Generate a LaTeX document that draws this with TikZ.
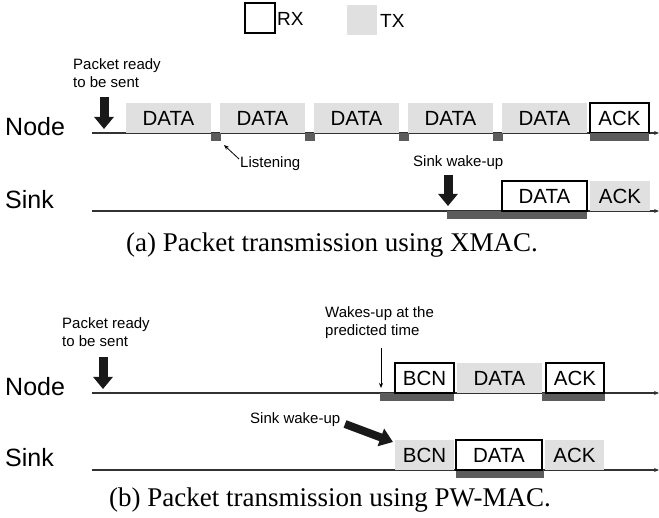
\documentclass[tikz,border=0pt]{standalone}
\usepackage{fontspec}
\setmainfont{Liberation Sans}
\newfontfamily\capfont{Liberation Serif}
\usetikzlibrary{arrows.meta}
\definecolor{txgray}{RGB}{224,224,224}
\definecolor{bargray}{RGB}{92,92,92}
\definecolor{linegray}{RGB}{50,50,50}
\tikzset{
  boxbase/.style={inner sep=0pt, outer sep=0pt, anchor=north west, font=\fontsize{20.5}{22}\selectfont},
  rxbox/.style={boxbase, draw=black, line width=1.1pt, fill=white},
  txbox/.style={boxbase, fill=txgray},
  barbox/.style={inner sep=0pt, outer sep=0pt, anchor=north west, fill=bargray, minimum height=7.5pt},
  tl/.style={draw=linegray, line width=1.2pt, -{Stealth[length=5pt,width=4pt]}},
  bigarrow/.style={draw=black!90, line width=9pt, -{Triangle[width=19pt,length=12pt]}},
  thinarrow/.style={draw=black, line width=0.8pt, -{Stealth[length=5pt,width=4pt]}},
  lbl/.style={inner sep=0pt, font=\fontsize{15}{18}\selectfont, align=left},
  rowlbl/.style={inner sep=0pt, anchor=west, font=\fontsize{25}{27}\selectfont},
  legtxt/.style={inner sep=0pt, anchor=west, font=\fontsize{19}{21}\selectfont},
  captxt/.style={inner sep=0pt, font=\capfont\fontsize{27}{29}\selectfont},
}
\begin{document}
\begin{tikzpicture}[x=1pt,y=-1pt]
\useasboundingbox (0,0) rectangle (659,518);
% legend
\node[rxbox, minimum width=30pt, minimum height=30pt] (legrx) at (245,3) {};
\node[legtxt] (legrxt) at (277,19) {RX};
\node[txbox, minimum width=30pt, minimum height=30pt] (legtx) at (347,5) {};
\node[legtxt] (legtxt) at (380,21) {TX};

% ---------------- (a) ----------------
\node[rowlbl] (anode) at (5,127) {Node};
\node[rowlbl] (asink) at (5,200) {Sink};
\coordinate (an0) at (92,133); \coordinate (an1) at (659,133);
\coordinate (as0) at (92,211); \coordinate (as1) at (659,211);
\draw[tl] (an0) -- (an1);
\draw[tl] (as0) -- (as1);

\node[lbl, anchor=west] (apkt) at (73,73) {Packet ready\\to be sent};
\coordinate (aar0) at (104,97); \coordinate (aar1) at (104,129);
\draw[bigarrow] (aar0) -- (aar1);

\node[txbox, minimum width=85pt, minimum height=30pt] (ad1) at (126,103) {DATA};
\node[txbox, minimum width=85pt, minimum height=30pt] (ad2) at (220,103) {DATA};
\node[txbox, minimum width=85pt, minimum height=30pt] (ad3) at (314,103) {DATA};
\node[txbox, minimum width=85pt, minimum height=30pt] (ad4) at (408,103) {DATA};
\node[txbox, minimum width=85pt, minimum height=30pt] (ad5) at (502,103) {DATA};
\node[rxbox, minimum width=59pt, minimum height=30pt] (aack) at (590,103) {ACK};
\node[barbox, minimum width=10pt] (al1) at (211,133.5) {};
\node[barbox, minimum width=10pt] (al2) at (305,133.5) {};
\node[barbox, minimum width=10pt] (al3) at (399,133.5) {};
\node[barbox, minimum width=10pt] (al4) at (493,133.5) {};
\node[barbox, minimum width=59pt] (alack) at (590,133.5) {};

\node[lbl, anchor=west] (alisten) at (240,164) {Listening};
\coordinate (ali0) at (239,159); \coordinate (ali1) at (224,145);
\draw[thinarrow] (ali0) -- (ali1);

\node[lbl, anchor=west] (aswake) at (413,163) {Sink wake-up};
\coordinate (asw0) at (448,175); \coordinate (asw1) at (448,206);
\draw[bigarrow] (asw0) -- (asw1);

\node[barbox, minimum width=140pt] (asbar) at (447,211.5) {};
\node[rxbox, minimum width=85pt, minimum height=30pt] (asd) at (502,181) {DATA};
\node[txbox, minimum width=60pt, minimum height=30pt] (asa) at (590,181) {ACK};

\node[captxt] (capa) at (332,245) {(a) Packet transmission using XMAC.};

% ---------------- (b) ----------------
\node[rowlbl] (bnode) at (5,387) {Node};
\node[rowlbl] (bsink) at (5,458) {Sink};
\coordinate (bn0) at (92,393); \coordinate (bn1) at (659,393);
\coordinate (bs0) at (92,470); \coordinate (bs1) at (659,470);
\draw[tl] (bn0) -- (bn1);
\draw[tl] (bs0) -- (bs1);

\node[lbl, anchor=west] (bpkt) at (62,332) {Packet ready\\to be sent};
\coordinate (bar0) at (103,357); \coordinate (bar1) at (103,389);
\draw[bigarrow] (bar0) -- (bar1);

\node[lbl, anchor=west] (bwake) at (325,323) {Wakes-up at the\\predicted time};
\coordinate (bw0) at (381,348); \coordinate (bw1) at (381,388);
\draw[thinarrow] (bw0) -- (bw1);

\node[barbox, minimum width=74pt] (bnb1) at (380,393.5) {};
\node[barbox, minimum width=63pt] (bnb2) at (542,393.5) {};
\node[rxbox, minimum width=59pt, minimum height=30pt] (bnbcn) at (395,363) {BCN};
\node[txbox, minimum width=85pt, minimum height=30pt] (bndata) at (457,363) {DATA};
\node[rxbox, minimum width=58pt, minimum height=30pt] (bnack) at (546,363) {ACK};

\node[lbl, anchor=west] (bswake) at (250,420) {Sink wake-up};
\coordinate (bsw0) at (345,424); \coordinate (bsw1) at (393,442);
\draw[bigarrow, line width=8pt, -{Triangle[width=18pt,length=13pt]}] (bsw0) -- (bsw1);

\node[barbox, minimum width=88pt] (bsbar) at (456,470.5) {};
\node[txbox, minimum width=59pt, minimum height=30pt] (bsbcn) at (395,440) {BCN};
\node[rxbox, minimum width=86pt, minimum height=30pt] (bsdata) at (456,440) {DATA};
\node[txbox, minimum width=59pt, minimum height=30pt] (bsack) at (545,440) {ACK};

\node[captxt] (capb) at (330,500) {(b) Packet transmission using PW-MAC.};
\end{tikzpicture}
\end{document}
